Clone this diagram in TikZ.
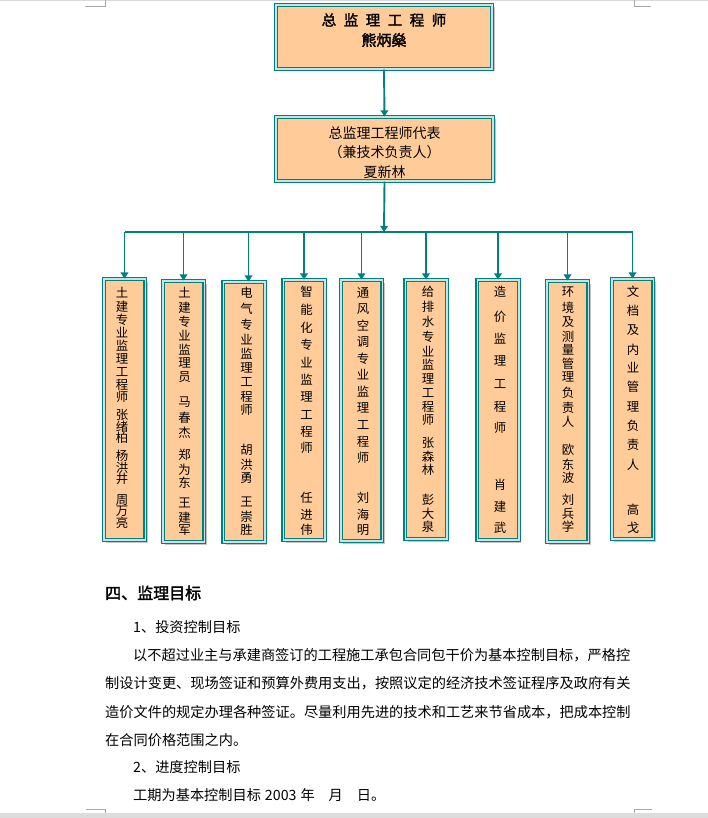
\documentclass[tikz,border=0pt]{standalone}
\usepackage{fontspec}
\setmainfont{Noto Sans CJK SC}
\newfontfamily\cjkb[FakeBold=2]{Noto Sans CJK SC}
\usetikzlibrary{shadows,arrows.meta}
\definecolor{tealc}{HTML}{008080}
\definecolor{peach}{HTML}{FFCC99}
\definecolor{pagegray}{HTML}{DCDCDC}
\definecolor{markgray}{HTML}{A8A8A8}
\tikzset{
  orgbox/.style={draw=tealc, line width=1.1pt, double=tealc!22, double distance=1.5pt,
    fill=peach, inner sep=0pt,
    drop shadow={shadow xshift=2.5pt, shadow yshift=-2.5pt, fill=black!45}},
  vbox/.style={orgbox, minimum width=41.5pt},
  conn/.style={draw=tealc, line width=1.9pt, -{Triangle[length=6pt,width=7.5pt]}},
  busline/.style={draw=tealc, line width=1.7pt},
  vch/.style={inner sep=0pt, font=\fontsize{12.4}{12.4}\selectfont},
  body/.style={anchor=west, inner sep=0pt, font=\fontsize{14.2}{14.2}\selectfont},
  cornermark/.style={draw=markgray, line width=0.8pt}
}
\newcommand\vcolumn[3]{\foreach \c/\y [count=\i] in {#3} {\node[vch] (#1-\i) at (#2,\y) {\c};}}
\begin{document}
\begin{tikzpicture}[x=1pt,y=-1pt]
\useasboundingbox (0,0) rectangle (708,818);
% page decorations
\draw[draw=black!15, line width=0.6pt] (0,0.8) -- (708,0.8);
\draw[cornermark] (85,6) -- (105,6) -- (105,0);
\draw[cornermark] (634,0) -- (634,6) -- (651,6);
\fill[pagegray] (0,813) rectangle (708,818);
\draw[cornermark] (86,809) -- (105,809) -- (105,813);
\draw[cornermark] (634,813) -- (634,809) -- (652,809);

% top boxes
\node[orgbox, minimum width=216pt, minimum height=64pt] (chief) at (384,37) {};
\node[font=\cjkb\fontsize{14.5}{14.5}\selectfont, inner sep=0pt] (chiefT) at (384,20)
  {总\kern7.5pt 监\kern7.5pt 理\kern7.5pt 工\kern7.5pt 程\kern7.5pt 师};
\node[font=\cjkb\fontsize{15}{15}\selectfont, inner sep=0pt] (chiefN) at (384,40) {熊炳燊};

\node[orgbox, minimum width=217pt, minimum height=64pt] (rep) at (384.5,149) {};
\node[font=\fontsize{14}{19.5}\selectfont, align=center, inner sep=0pt] (repT) at (384.5,152.5)
  {总监理工程师代表\\（兼技术负责人）\\夏新林};

% vertical boxes
\node[vbox, minimum height=261pt] (b1) at (124.5,409.5) {};
\node[vbox, minimum height=261pt] (b2) at (183.5,411.5) {};
\node[vbox, minimum height=260pt] (b3) at (244,412) {};
\node[vbox, minimum height=260pt] (b4) at (304,410) {};
\node[vbox, minimum height=261pt] (b5) at (361.5,410.5) {};
\node[vbox, minimum height=259pt] (b6) at (426,409.5) {};
\node[vbox, minimum height=260pt] (b7) at (498,410) {};
\node[vbox, minimum height=261pt] (b8) at (567.5,411.5) {};
\node[vbox, minimum height=260pt] (b9) at (632.5,409) {};

% connectors
\coordinate (bus) at (384,232);
\draw[conn] (chief.south) -- (rep.north);
\draw[conn] (rep.south) -- (bus);
\draw[busline] (b1.north |- bus) -- (b9.north |- bus);
\foreach \b in {b1,b2,b4,b5,b6,b7,b8,b9} {\draw[conn] (\b.north |- bus) -- (\b.north);}
\draw[conn] ([xshift=4.5pt]b3.north |- bus) -- ([xshift=4.5pt]b3.north);

% vertical texts
\vcolumn{t1}{122}{土/293,建/307,专/320,业/333,监/346,理/359,工/372,程/385,师/397,张/415,绪/426.5,柏/438,杨/456,洪/467.5,井/479,周/500,万/511.5,亮/523}
\vcolumn{t2}{184.5}{土/293,建/308,专/322,业/336,监/350,理/363,员/377,马/402,春/417.5,杰/433,郑/455,为/469.5,东/483,王/503,建/517.5,军/530}
\vcolumn{t3}{246.5}{电/293,气/309,专/324.5,业/339.5,监/354,理/368,工/382.5,程/397,师/410,胡/450,洪/465,勇/478,王/502,崇/516.5,胜/530}
\vcolumn{t4}{306.5}{智/292,能/310,化/328,专/345,业/363,监/380,理/397,工/415,程/432,师/448,任/498,进/514.5,伟/530}
\vcolumn{t5}{363}{通/293,风/309.5,空/326,调/342,专/358.5,业/375,监/391.5,理/408,工/425,程/441.5,师/458,刘/498,海/514.5,明/530}
\vcolumn{t6}{428}{给/292,排/307,水/322,专/337,业/351.5,监/365,理/379,工/393,程/407,师/420,张/443,森/456.5,林/470,彭/500,大/513.5,泉/527}
\vcolumn{t7}{500}{造/292,价/317,监/339,理/361,工/384,程/407,师/428,肖/485,建/507,武/528}
\vcolumn{t8}{568}{环/292,境/307.5,及/322.5,测/336.5,量/350,管/363.5,理/377,负/393,责/408,人/422,欧/450,东/464.5,波/478,刘/500,兵/513.5,学/527}
\vcolumn{t9}{633}{文/292,档/310.5,及/330,内/349.5,业/368,管/387,理/406.5,负/425.5,责/445,人/465,高/510,戈/528}

% text below
\node[anchor=west, inner sep=0pt, font=\cjkb\fontsize{16}{16}\selectfont] (h4) at (105,593) {四、监理目标};
\node[body] (p1h) at (133,627) {1、投资控制目标};
\node[body] (p1a) at (133,655) {以不超过业主与承建商签订的工程施工承包合同包干价为基本控制目标，严格控};
\node[body] (p1b) at (105,683) {制设计变更、现场签证和预算外费用支出，按照议定的经济技术签证程序及政府有关};
\node[body] (p1c) at (105,712) {造价文件的规定办理各种签证。尽量利用先进的技术和工艺来节省成本，把成本控制};
\node[body] (p1d) at (105,740) {在合同价格范围之内。};
\node[body] (p2h) at (133,767) {2、进度控制目标};
\node[body] (p2a) at (133,795) {工期为基本控制目标\kern4pt 2003\kern4pt 年\kern14pt 月\kern14pt 日。};
\end{tikzpicture}
\end{document}
